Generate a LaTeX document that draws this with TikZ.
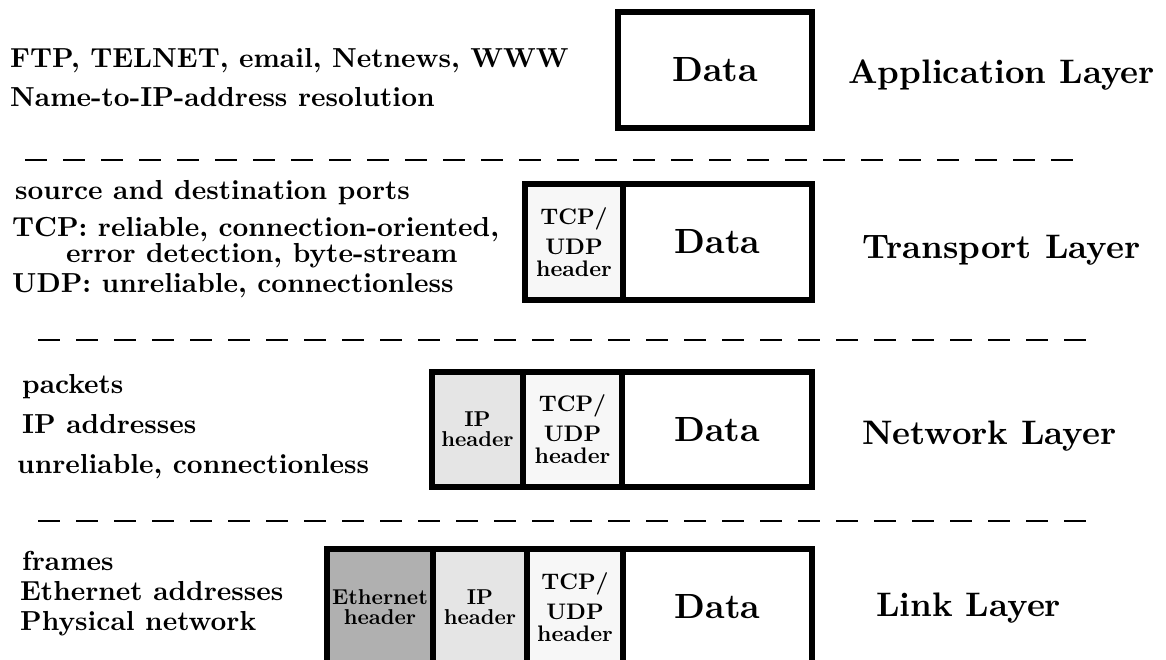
\documentclass[tikz,border=0pt]{standalone}
\usepackage{fontspec}
\setmainfont{lmroman10-regular.otf}[BoldFont=lmroman10-bold.otf]
\begin{document}
\begin{tikzpicture}[x=1pt,y=-1pt,
  cell/.style={draw=black, line width=6pt, inner sep=0pt, minimum height=116pt},
  lefttxt/.style={anchor=base west, inner sep=0pt, font=\fontsize{27.5}{30}\selectfont\bfseries},
  layertxt/.style={anchor=base west, inner sep=0pt, font=\fontsize{34}{36}\selectfont\bfseries},
  datatxt/.style={font=\fontsize{35}{37}\selectfont\bfseries},
  hdr/.style={align=center, font=\fontsize{22.5}{30}\selectfont\bfseries},
  hdrtight/.style={align=center, font=\fontsize{21.5}{20}\selectfont\bfseries},
  sepline/.style={line width=2pt, dash pattern=on 22pt off 16pt}]
\useasboundingbox (0,0) rectangle (1166,659);

% ---------- Application layer ----------
\node[lefttxt] (a1) at (10,67) {FTP, TELNET, email, Netnews, WWW};
\node[lefttxt] (a2) at (10,106) {Name-to-IP-address resolution};
\node[cell, minimum width=194pt, datatxt] (adata) at (715,70) {Data};
\node[layertxt] (alayer) at (848,83) {Application Layer};

\coordinate (s1a) at (25,160);
\coordinate (s1b) at (1087,160);
\draw[sepline] (s1a) -- (s1b);

% ---------- Transport layer ----------
\node[lefttxt] (t1) at (15,199) {source and destination ports};
\node[lefttxt] (t2) at (12,236) {TCP: reliable, connection-oriented,};
\node[lefttxt] (t3) at (66,262) {error detection, byte-stream};
\node[lefttxt] (t4) at (12,292) {UDP: unreliable, connectionless};
\node[cell, fill=black!3, minimum width=98pt, hdr] (thdr) at (574,242) {TCP/\\UDP\\[-8pt]header};
\node[cell, minimum width=189pt, datatxt] (tdata) at (717.5,242) {Data};
\node[layertxt] (tlayer) at (862,258) {Transport Layer};

\coordinate (s2a) at (38,340);
\coordinate (s2b) at (1089,340);
\draw[sepline] (s2a) -- (s2b);

% ---------- Network layer ----------
\node[lefttxt] (n1) at (22,393) {packets};
\node[lefttxt] (n2) at (22,433) {IP addresses};
\node[lefttxt] (n3) at (17,473) {unreliable, connectionless};
\node[cell, fill=black!10, minimum width=91pt, minimum height=115pt, hdrtight] (nip) at (477.5,429.5) {IP\\header};
\node[cell, fill=black!3, minimum width=99pt, minimum height=115pt, hdr] (nhdr) at (572.5,429.5) {TCP/\\UDP\\[-8pt]header};
\node[cell, minimum width=190pt, minimum height=115pt, datatxt] (ndata) at (717,429.5) {Data};
\node[layertxt] (nlayer) at (862,444) {Network Layer};

\coordinate (s3a) at (38,521);
\coordinate (s3b) at (1096,521);
\draw[sepline] (s3a) -- (s3b);

% ---------- Link layer ----------
\node[lefttxt] (l1) at (22,570) {frames};
\node[lefttxt] (l2) at (20,600) {Ethernet addresses};
\node[lefttxt] (l3) at (20,630) {Physical network};
\node[cell, fill=black!31, minimum width=106pt, hdrtight] (leth) at (380,607) {Ethernet\\header};
\node[cell, fill=black!10, minimum width=94pt, hdrtight] (lip) at (480,607) {IP\\header};
\node[cell, fill=black!3, minimum width=96pt, hdr] (lhdr) at (575,607) {TCP/\\UDP\\[-8pt]header};
\node[cell, minimum width=189pt, datatxt] (ldata) at (717.5,607) {Data};
\node[layertxt] (llayer) at (876,616) {Link Layer};
\end{tikzpicture}
\end{document}
